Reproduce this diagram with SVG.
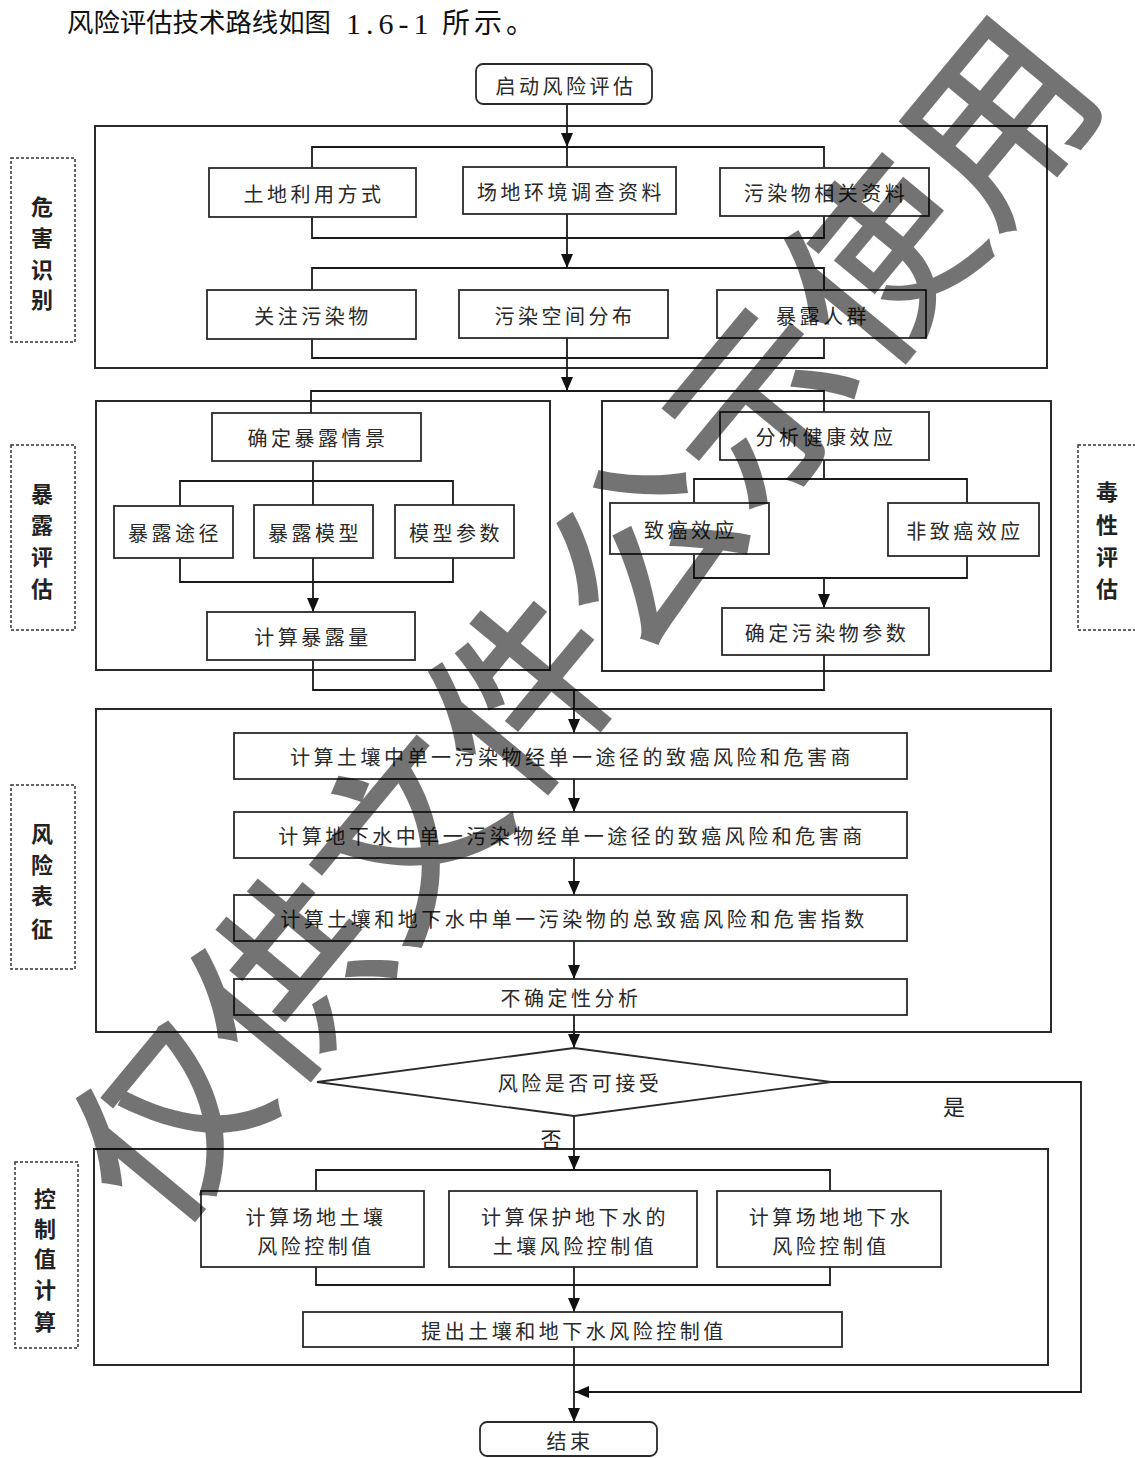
<svg xmlns="http://www.w3.org/2000/svg" width="1135" height="1458" viewBox="0 0 1135 1458">
<style>
.t{font-family:"Noto Sans CJK SC","Noto Sans",sans-serif;font-size:20px;fill:#2a2a2a;text-anchor:middle;dominant-baseline:central;letter-spacing:3.5px}
.lab{font-family:"Noto Sans CJK SC","Noto Sans",sans-serif;font-size:22px;fill:#222;text-anchor:middle;dominant-baseline:central;font-weight:bold}
.hd{font-family:"Liberation Serif","Noto Sans CJK SC",serif;font-size:26px;fill:#111;dominant-baseline:central}
.box{fill:#fff;stroke:#2a2a2a;stroke-width:1.8}
.cont{fill:none;stroke:#2a2a2a;stroke-width:2}
.dash{fill:none;stroke:#333;stroke-width:1.5;stroke-dasharray:3 2}
.ln{fill:none;stroke:#1a1a1a;stroke-width:1.8}
.arr{fill:none;stroke:#1a1a1a;stroke-width:1.8;marker-end:url(#ah)}
</style>
<defs>
<marker id="ah" markerUnits="userSpaceOnUse" markerWidth="14" markerHeight="12" refX="14" refY="6" orient="auto">
<path d="M0,0 L14,6 L0,12 z" fill="#111"/>
</marker>
</defs>
<rect width="1135" height="1458" fill="#fff"/>
<g id="heading">
<text class="hd" x="67" y="23" textLength="264" lengthAdjust="spacingAndGlyphs">风险评估技术路线如图</text>
<text class="hd" x="346" y="23" style="font-size:30px;letter-spacing:5px">1.6-1</text>
<text class="hd" x="442" y="23" style="font-size:28px;letter-spacing:4px">所示。</text>
</g>

<g id="containers">
<rect id="c-hazard" class="cont" x="95" y="126" width="952" height="242"/>
<rect id="c-exposure" class="cont" x="96" y="401" width="454" height="269"/>
<rect id="c-toxicity" class="cont" x="602" y="401" width="449" height="270"/>
<rect id="c-risk" class="cont" x="96" y="709" width="955" height="323"/>
<rect id="c-control" class="cont" x="94" y="1149" width="954" height="216"/>
</g>

<g id="side-labels">
<g id="lab-hazard"><rect class="dash" x="11" y="158" width="64" height="184"/>
<text class="lab" x="42" y="205">危</text><text class="lab" x="42" y="236">害</text><text class="lab" x="42" y="268">识</text><text class="lab" x="42" y="298">别</text></g>
<g id="lab-exposure"><rect class="dash" x="11" y="445" width="64" height="185"/>
<text class="lab" x="42" y="492">暴</text><text class="lab" x="42" y="523">露</text><text class="lab" x="42" y="555">评</text><text class="lab" x="42" y="587">估</text></g>
<g id="lab-risk"><rect class="dash" x="11" y="785" width="64" height="184"/>
<text class="lab" x="42" y="832">风</text><text class="lab" x="42" y="863">险</text><text class="lab" x="42" y="894">表</text><text class="lab" x="42" y="927">征</text></g>
<g id="lab-control"><rect class="dash" x="15" y="1162" width="63" height="186"/>
<text class="lab" x="45" y="1197">控</text><text class="lab" x="45" y="1227">制</text><text class="lab" x="45" y="1257">值</text><text class="lab" x="45" y="1288">计</text><text class="lab" x="45" y="1320">算</text></g>
<g id="lab-toxicity"><rect class="dash" x="1078" y="445" width="64" height="185"/>
<text class="lab" x="1107" y="490">毒</text><text class="lab" x="1107" y="523">性</text><text class="lab" x="1107" y="555">评</text><text class="lab" x="1107" y="587">估</text></g>
</g>

<g id="connectors">
<path class="arr" d="M567,104 V147"/>
<path class="ln" d="M312,168 V147 H824 V168"/>
<path class="ln" d="M567,147 V168"/>
<path class="ln" d="M312,217 V238 H824 V216"/>
<path class="arr" d="M567,214 V268"/>
<path class="ln" d="M312,290 V268 H824 V290"/>
<path class="ln" d="M312,339 V358 H824 V338"/>
<path class="arr" d="M567,338 V391"/>
<path class="ln" d="M311,413 V391 H824 V412"/>
<path class="ln" d="M313,461 V506"/>
<path class="ln" d="M180,506 V481 H453 V505"/>
<path class="ln" d="M180,558 V582 H453 V558"/>
<path class="arr" d="M313,558 V612"/>
<path class="ln" d="M824,460 V479"/>
<path class="ln" d="M694,503 V479 H967 V503"/>
<path class="ln" d="M694,554 V578 H967 V556"/>
<path class="arr" d="M824,578 V608"/>
<path class="ln" d="M313,660 V690 H824 V655"/>
<path class="arr" d="M574,690 V733"/>
<path class="arr" d="M574,779 V812"/>
<path class="arr" d="M574,858 V895"/>
<path class="arr" d="M574,941 V979"/>
<path class="arr" d="M574,1015 V1048"/>
<path class="arr" d="M574,1116 V1170"/>
<path class="ln" d="M316,1191 V1170 H830 V1191"/>
<path class="ln" d="M316,1267 V1285 H830 V1267"/>
<path class="arr" d="M574,1267 V1312"/>
<path class="arr" d="M574,1347 V1422"/>
<path class="arr" d="M831,1082 H1081 V1392 H575"/>
<text x="551" y="1138" class="lab" style="font-weight:normal;font-size:21px">否</text>
<text x="954" y="1105" class="lab" style="font-weight:normal;font-size:22px">是</text>
</g>

<g id="nodes">
<g id="n-start"><rect class="box" x="476" y="64" width="176" height="40" rx="7"/><text class="t" x="566" y="85">启动风险评估</text></g>
<g id="n-land"><rect class="box" x="209" y="168" width="207" height="49"/><text class="t" x="314" y="193">土地利用方式</text></g>
<g id="n-site"><rect class="box" x="463" y="167" width="213" height="47"/><text class="t" x="571" y="191">场地环境调查资料</text></g>
<g id="n-poll"><rect class="box" x="720" y="168" width="209" height="48"/><text class="t" x="826" y="192">污染物相关资料</text></g>
<g id="n-focus"><rect class="box" x="207" y="290" width="209" height="49"/><text class="t" x="313" y="315">关注污染物</text></g>
<g id="n-spatial"><rect class="box" x="459" y="290" width="209" height="48"/><text class="t" x="565" y="315">污染空间分布</text></g>
<g id="n-people"><rect class="box" x="717" y="290" width="209" height="48"/><text class="t" x="823" y="315">暴露人群</text></g>

<g id="n-scenario"><rect class="box" x="212" y="413" width="209" height="48"/><text class="t" x="318" y="437">确定暴露情景</text></g>
<g id="n-path"><rect class="box" x="114" y="506" width="119" height="52"/><text class="t" x="175" y="532">暴露途径</text></g>
<g id="n-model"><rect class="box" x="254" y="505" width="119" height="53"/><text class="t" x="315" y="532">暴露模型</text></g>
<g id="n-param"><rect class="box" x="395" y="505" width="119" height="53"/><text class="t" x="456" y="532">模型参数</text></g>
<g id="n-dose"><rect class="box" x="207" y="612" width="208" height="48"/><text class="t" x="313" y="636">计算暴露量</text></g>

<g id="n-health"><rect class="box" x="720" y="412" width="209" height="48"/><text class="t" x="826" y="436">分析健康效应</text></g>
<g id="n-carc"><rect class="box" x="610" y="503" width="159" height="51"/><text class="t" x="691" y="529">致癌效应</text></g>
<g id="n-noncarc"><rect class="box" x="888" y="503" width="151" height="53"/><text class="t" x="965" y="530">非致癌效应</text></g>
<g id="n-toxparam"><rect class="box" x="722" y="608" width="207" height="47"/><text class="t" x="827" y="632">确定污染物参数</text></g>

<g id="n-r1"><rect class="box" x="234" y="733" width="673" height="46"/><text class="t" x="572" y="756">计算土壤中单一污染物经单一途径的致癌风险和危害商</text></g>
<g id="n-r2"><rect class="box" x="234" y="812" width="673" height="46"/><text class="t" x="572" y="835">计算地下水中单一污染物经单一途径的致癌风险和危害商</text></g>
<g id="n-r3"><rect class="box" x="234" y="895" width="673" height="46"/><text class="t" x="574" y="918">计算土壤和地下水中单一污染物的总致癌风险和危害指数</text></g>
<g id="n-r4"><rect class="box" x="234" y="979" width="673" height="36"/><text class="t" x="571" y="997">不确定性分析</text></g>

<g id="n-decision"><polygon class="box" points="574,1048 831,1082 574,1116 317,1082"/><text class="t" x="580" y="1082">风险是否可接受</text></g>

<g id="n-c1"><rect class="box" x="201" y="1191" width="223" height="76"/><text class="t" x="316" y="1216">计算场地土壤</text><text class="t" x="316" y="1245">风险控制值</text></g>
<g id="n-c2"><rect class="box" x="449" y="1191" width="248" height="76"/><text class="t" x="575" y="1216">计算保护地下水的</text><text class="t" x="575" y="1245">土壤风险控制值</text></g>
<g id="n-c3"><rect class="box" x="717" y="1191" width="224" height="76"/><text class="t" x="831" y="1216">计算场地地下水</text><text class="t" x="831" y="1245">风险控制值</text></g>
<g id="n-propose"><rect class="box" x="303" y="1312" width="539" height="35"/><text class="t" x="574" y="1330">提出土壤和地下水风险控制值</text></g>
<g id="n-end"><rect class="box" x="480" y="1422" width="177" height="34" rx="7"/><text class="t" x="570" y="1440">结束</text></g>
</g>

<text id="watermark" x="574" y="613" transform="rotate(-50.4 574 613)" style="font-family:'Noto Sans CJK SC',sans-serif;font-size:186px;font-weight:500;fill:#000;fill-opacity:0.55;text-anchor:middle;dominant-baseline:central">仅供文件公示使用</text>
</svg>
